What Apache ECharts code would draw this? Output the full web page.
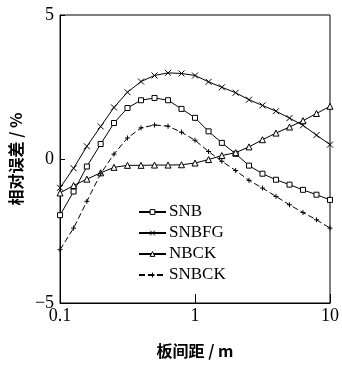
<!DOCTYPE html>
<html>
<head>
<meta charset="utf-8">
<script src="https://cdn.jsdelivr.net/npm/echarts@6/dist/echarts.min.js"></script>
<style>html,body{margin:0;padding:0;background:#fff;}#c{width:342px;height:365px;}</style>
</head>
<body>
<div id="c"></div>
<script>
var spacing = [0.1, 0.126, 0.158, 0.2, 0.251, 0.316, 0.398, 0.501, 0.631, 0.794, 1, 1.26, 1.58, 2, 2.51, 3.16, 3.98, 5.01, 6.31, 7.94, 10];
var SNB = [-1.95, -1.13, -0.26, 0.52, 1.25, 1.77, 2.04, 2.12, 2.04, 1.74, 1.43, 0.96, 0.56, 0.18, -0.23, -0.51, -0.72, -0.89, -1.07, -1.24, -1.42];
var SNBFG = [-1.0, -0.32, 0.44, 1.13, 1.79, 2.32, 2.69, 2.9, 2.99, 2.97, 2.9, 2.68, 2.49, 2.3, 2.06, 1.86, 1.66, 1.42, 1.17, 0.83, 0.5];
var NBCK = [-1.18, -0.92, -0.7, -0.48, -0.29, -0.22, -0.22, -0.21, -0.21, -0.2, -0.14, -0.02, 0.12, 0.22, 0.42, 0.67, 0.9, 1.11, 1.33, 1.58, 1.83];
var SNBCK = [-3.15, -2.4, -1.47, -0.51, 0.17, 0.73, 1.08, 1.18, 1.14, 0.93, 0.65, 0.26, -0.08, -0.4, -0.74, -1.01, -1.3, -1.59, -1.86, -2.11, -2.4];
var seriesNames = ['SNB', 'SNBFG', 'NBCK', 'SNBCK'];
var yTicks = [-5, 0, 5];
var xTicks = [0.1, 1, 10];

function pairs(ys) { return spacing.map(function (x, i) { return [x, ys[i]]; }); }

var serif = 'Liberation Serif, Times New Roman, serif';
var cjk = '"Noto Sans CJK SC", sans-serif';
var symStyle = { color: '#fff', borderColor: '#000', borderWidth: 1 };
var symbols = {
  SNB: { symbol: 'rect', size: 5 },
  SNBFG: { symbol: 'path://M0,0L10,10M10,0L0,10', size: 6 },
  NBCK: { symbol: 'triangle', size: 6 },
  SNBCK: { symbol: 'path://M5,0L5,10M0,5L10,5', size: 5 }
};
var dataMap = { SNB: SNB, SNBFG: SNBFG, NBCK: NBCK, SNBCK: SNBCK };

var chart = echarts.init(document.getElementById('c'), null, { renderer: 'canvas' });
chart.setOption({
  animation: false,
  backgroundColor: '#fff',
  grid: { left: 58, right: 9, top: 15, bottom: 62, show: true, borderColor: '#000', borderWidth: 1, backgroundColor: 'transparent' },
  legend: {
    orient: 'vertical', left: 133, top: 198, itemGap: 3, itemWidth: 27, itemHeight: 6,
    itemStyle: { color: '#fff', borderColor: '#000', borderWidth: 1 },
    textStyle: { fontFamily: serif, fontSize: 17, lineHeight: 18, color: '#000', padding: [0, 0, 0, -2] },
    data: seriesNames
  },
  xAxis: {
    type: 'log', logBase: 10, min: xTicks[0], max: xTicks[2],
    name: '板间距 / m', nameLocation: 'middle', nameGap: 40,
    nameTextStyle: { fontFamily: cjk, fontSize: 16, fontWeight: 'bold', color: '#000' },
    axisLine: { onZero: false, lineStyle: { color: '#000', width: 1 } },
    axisTick: { inside: true, length: 9, lineStyle: { color: '#000' } },
    minorTick: { show: false },
    splitLine: { show: false },
    axisLabel: { fontFamily: serif, fontSize: 18, color: '#000', margin: 4, formatter: function (v) { return String(v); } }
  },
  yAxis: {
    type: 'value', min: yTicks[0], max: yTicks[2], interval: 5,
    name: '相对误差 / %', nameLocation: 'middle', nameGap: 25, nameRotate: 90,
    nameTextStyle: { fontFamily: cjk, fontSize: 16, fontWeight: 'bold', color: '#000' },
    axisLine: { onZero: false, lineStyle: { color: '#000', width: 1 } },
    axisTick: { inside: true, length: 5, lineStyle: { color: '#000' } },
    splitLine: { show: false },
    axisLabel: { fontFamily: serif, fontSize: 18, color: '#000', margin: 6, formatter: function (v) { return String(v).replace('-', '\u2212'); } }
  },
  series: seriesNames.map(function (n) {
    return {
      name: n, type: 'line', data: pairs(dataMap[n]),
      symbol: symbols[n].symbol, symbolSize: symbols[n].size, showSymbol: true,
      itemStyle: symStyle,
      lineStyle: { color: '#000', width: 1, type: n === 'SNBCK' ? [6, 3] : 'solid' },
      clip: true
    };
  })
});
</script>
</body>
</html>
